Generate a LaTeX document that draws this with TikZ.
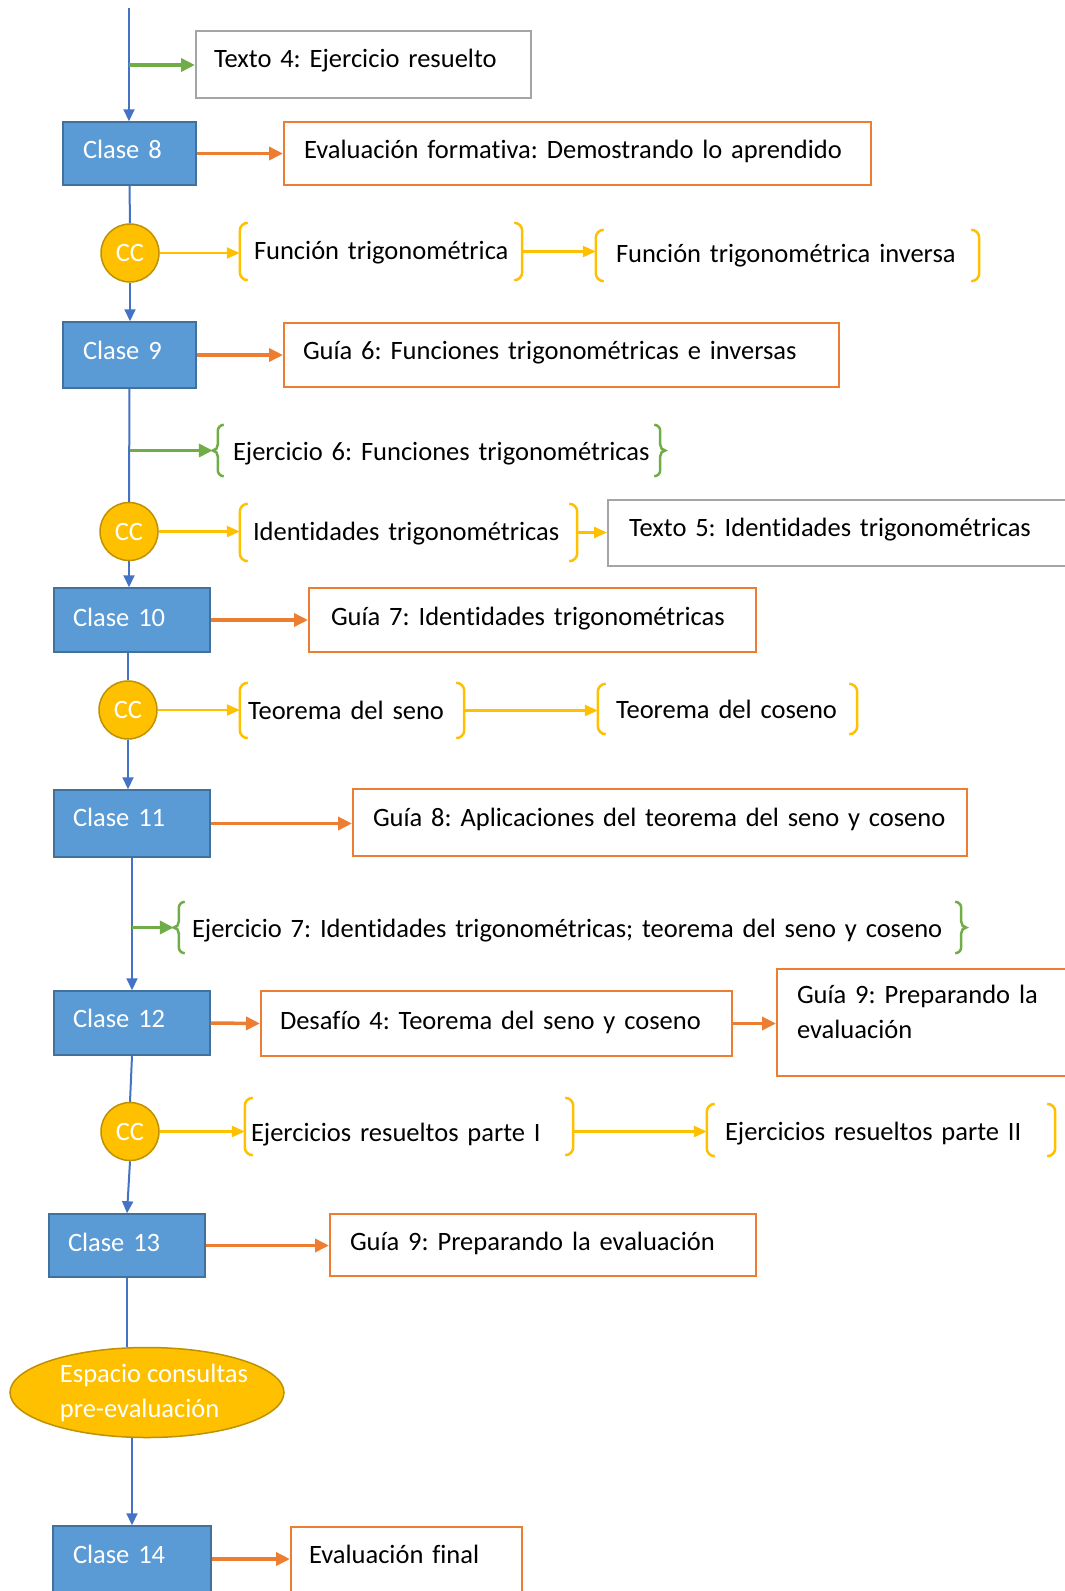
\documentclass[tikz,border=0pt]{standalone}
\usepackage{fontspec}
\setmainfont{Carlito}[Ligatures=NoCommon]
\usetikzlibrary{arrows.meta,shapes.geometric}
\definecolor{bfill}{HTML}{5B9BD5}
\definecolor{bborder}{HTML}{41719C}
\definecolor{bline}{HTML}{4472C4}
\definecolor{orng}{HTML}{ED7D31}
\definecolor{yel}{HTML}{FFC000}
\definecolor{ccb}{HTML}{BF9000}
\definecolor{grn}{HTML}{70AD47}
\definecolor{gry}{HTML}{A5A5A5}
\newcommand\fs{\fontsize{26.5}{35}\selectfont\frenchspacing}
\newcommand\ybrk[1]{%
 \draw[ybr] ([xshift=8pt]#1.north west) arc[start angle=90,end angle=180,radius=8pt] -- ([yshift=8pt]#1.south west) arc[start angle=180,end angle=270,radius=8pt];
 \draw[ybr] ([xshift=-8pt]#1.north east) arc[start angle=90,end angle=0,radius=8pt] -- ([yshift=8pt]#1.south east) arc[start angle=0,end angle=-90,radius=8pt];}
\newcommand\gbrk[1]{%
 \draw[gbr] ([xshift=6pt]#1.north west) to[out=180,in=90] ([yshift=-6pt]#1.north west) -- ([yshift=6pt]#1.west) to[out=-90,in=0] ([xshift=-5pt]#1.west) to[out=0,in=90] ([yshift=-6pt]#1.west) -- ([yshift=6pt]#1.south west) to[out=-90,in=180] ([xshift=6pt]#1.south west);
 \draw[gbr] ([xshift=-6pt]#1.north east) to[out=0,in=90] ([yshift=-6pt]#1.north east) -- ([yshift=6pt]#1.east) to[out=-90,in=180] ([xshift=5pt]#1.east) to[out=180,in=90] ([yshift=-6pt]#1.east) -- ([yshift=6pt]#1.south east) to[out=-90,in=0] ([xshift=-6pt]#1.south east);}
\tikzset{
 x=1pt, y=1pt,
 every node/.style={font=\fs},
 dy/.code={\pgfmathsetmacro\myTH{17+#1}\pgfmathsetmacro\myTD{23-#1}%
   \edef\myTmp{\noexpand\tikzset{text height=\myTH pt,text depth=\myTD pt}}\myTmp},
 base/.style={rectangle, inner ysep=0pt, align=left},
 clase/.style={base, fill=bfill, draw=bborder, line width=1.5pt, text=white},
 obox/.style={base, draw=orng, line width=2pt},
 gbox/.style={base, draw=gry, line width=2pt},
 brnode/.style={base},
 cc/.style={circle, fill=yel, draw=ccb, line width=1.5pt, text=white, minimum size=58pt, inner sep=0pt},
 blin/.style={draw=bline, line width=2pt},
 barr/.style={blin, -{Triangle[length=12pt,width=11pt]}},
 oarr/.style={draw=orng, line width=3.5pt, -{Triangle[length=14pt,width=13pt]}},
 garr/.style={draw=grn, line width=3.5pt, -{Triangle[length=14pt,width=13pt]}},
 yarr/.style={draw=yel, line width=2.5pt, -{Triangle[length=13pt,width=11pt]}},
 ybr/.style={draw=yel, line width=2.5pt},
 gbr/.style={draw=grn, line width=2.5pt},
}
\begin{document}
\begin{tikzpicture}
\useasboundingbox (0,0) rectangle (1065,-1591);
\clip (0,0) rectangle (1065,-1591);
% boxes
\node[gbox, minimum width=335, minimum height=67, text width=299, inner xsep=18, dy=5.6] (t4) at (363.5,-64.5) {\mbox{Texto 4: Ejercicio resuelto}};
\node[clase, minimum width=133, minimum height=63, text width=93, inner xsep=20, dy=7.9] (c8) at (129.5,-153.5) {\mbox{Clase 8}};
\node[obox, minimum width=587, minimum height=63, text width=547, inner xsep=20, dy=7.9] (ef) at (577.5,-153.5) {\mbox{Evaluación formativa: Demostrando lo aprendido}};
\node[cc] (cc1) at (130,-253) {CC};
\node[brnode, minimum width=282, minimum height=57, text width=254, inner xsep=14, dy=11.3] (ft) at (381,-251.5) {\mbox{Función trigonométrica}};
\node[brnode, minimum width=383, minimum height=51, text width=343, inner xsep=20, dy=10.4] (fti) at (787.5,-255.5) {\mbox{Función trigonométrica inversa}};
\node[clase, minimum width=133, minimum height=66, text width=93, inner xsep=20, dy=7.2] (c9) at (129.5,-355) {\mbox{Clase 9}};
\node[obox, minimum width=555, minimum height=64, text width=517, inner xsep=19, dy=7.2] (g6) at (561.5,-355) {\mbox{Guía 6: Funciones trigonométricas e inversas}};
\node[brnode, minimum width=442, minimum height=51, text width=412, inner xsep=15, dy=13.2] (e6) at (439,-450.5) {\mbox{Ejercicio 6: Funciones trigonométricas}};
\node[cc] (cc2) at (129,-531.5) {CC};
\node[brnode, minimum width=337, minimum height=57, text width=311, inner xsep=13, dy=11.3] (it) at (408.5,-532.5) {\mbox{Identidades trigonométricas}};
\node[gbox, minimum width=467, minimum height=66, text width=425, inner xsep=21, dy=6.7] (t5) at (841.5,-533) {\mbox{Texto 5: Identidades trigonométricas}};
\node[clase, minimum width=156, minimum height=64, text width=118, inner xsep=19, dy=9] (c10) at (132,-620) {\mbox{Clase 10}};
\node[obox, minimum width=447, minimum height=64, text width=403, inner xsep=22, dy=8] (g7) at (532.5,-620) {\mbox{Guía 7: Identidades trigonométricas}};
\node[cc] (cc3) at (128,-710) {CC};
\node[brnode, minimum width=224, minimum height=55, text width=208, inner xsep=8, dy=11.8] (ts) at (352,-710.5) {\mbox{Teorema del seno}};
\node[brnode, minimum width=259, minimum height=50, text width=223, inner xsep=18, dy=12.3] (tc) at (727.5,-709) {\mbox{Teorema del coseno}};
\node[clase, minimum width=156, minimum height=67, text width=118, inner xsep=19, dy=6.3] (c11) at (132,-823.5) {\mbox{Clase 11}};
\node[obox, minimum width=614, minimum height=67, text width=574, inner xsep=20, dy=7.3] (g8) at (660,-822.5) {\mbox{Guía 8: Aplicaciones del teorema del seno y coseno}};
\node[brnode, minimum width=782, minimum height=51, text width=756, inner xsep=13, dy=13.4] (e7) at (570,-927.5) {\mbox{Ejercicio 7: Identidades trigonométricas; teorema del seno y coseno}};
\node[clase, minimum width=156, minimum height=64, text width=118, inner xsep=19, dy=7.7] (c12) at (132,-1023) {\mbox{Clase 12}};
\node[obox, minimum width=471, minimum height=65, text width=433, inner xsep=19, dy=9.2] (d4) at (496.5,-1023.5) {\mbox{Desafío 4: Teorema del seno y coseno}};
\node[obox, text depth=55.6pt, minimum width=298, minimum height=107, text width=258, inner xsep=20] (g9a) at (926,-1022.5) {\mbox{Guía 9: Preparando la}\\\mbox{evaluación}};
\node[cc] (cc4) at (130,-1131.5) {CC};
\node[brnode, minimum width=328, minimum height=57, text width=316, inner xsep=6, dy=17.8] (er1) at (409,-1126.5) {\mbox{Ejercicios resueltos parte I}};
\node[brnode, minimum width=348, minimum height=52, text width=312, inner xsep=18, dy=13.3] (er2) at (881,-1130) {\mbox{Ejercicios resueltos parte II}};
\node[clase, minimum width=156, minimum height=63, text width=118, inner xsep=19, dy=9.3] (c13) at (127,-1245.5) {\mbox{Clase 13}};
\node[obox, minimum width=426, minimum height=62, text width=386, inner xsep=20, dy=8.8] (g9b) at (543,-1245) {\mbox{Guía 9: Preparando la evaluación}};
\node[ellipse, fill=yel, draw=ccb, line width=1.5pt, text=white, minimum width=274, minimum height=90, inner xsep=-7pt, inner ysep=0pt, text depth=4pt, align=left] (ec) at (147,-1392.5) {\hspace*{14pt}Espacio consultas\\\hspace*{14pt}pre-evaluación};
\node[clase, minimum width=156, minimum height=74, text width=118, inner xsep=20, dy=3.3] (c14) at (132,-1563) {\mbox{Clase 14}};
\node[obox, minimum width=231, minimum height=73, text width=195, inner xsep=18, dy=2.8] (ef2) at (406.5,-1563.5) {\mbox{Evaluación final}};
% brackets
\ybrk{ft} \ybrk{fti} \ybrk{it} \ybrk{ts} \ybrk{tc} \ybrk{er1} \ybrk{er2}
\gbrk{e6} \gbrk{e7}
% connectors
\coordinate (top) at (129,-8);
\draw[barr] (top) -- (top |- c8.north);
\coordinate (g1) at (129,-65);
\draw[garr] (g1) -- (g1 -| t4.west);
\draw[oarr] (c8.east) -- (ef.west);
\draw[blin] (c8.south) -- (cc1.north);
\draw[yarr] (cc1.east) -- (cc1.east -| ft.west);
\draw[yarr] (ft.east) -- (ft.east -| fti.west);
\draw[barr] (cc1.south) -- (cc1.south |- c9.north);
\draw[oarr] (c9.east) -- (g6.west);
\draw[blin] (c9.south) -- (cc2.north);
\coordinate (g2) at (129.5,-450.5);
\draw[garr] (g2) -- ([xshift=-5pt]e6.west);
\draw[yarr] (cc2.east) -- (cc2.east -| it.west);
\draw[yarr] (it.east) -- (it.east -| t5.west);
\draw[barr] (cc2.south) -- (cc2.south |- c10.north);
\draw[oarr] (c10.east) -- (g7.west);
\draw[blin] (cc3.north |- c10.south) -- (cc3.north);
\draw[yarr] (cc3.east) -- (cc3.east -| ts.west);
\draw[yarr] (ts.east) -- (ts.east -| tc.west);
\draw[barr] (cc3.south) -- (cc3.south |- c11.north);
\draw[oarr] (c11.east) -- (c11.east -| g8.west);
\draw[barr] (c11.south) -- (c12.north);
\coordinate (g3) at (132,-927.5);
\draw[garr] (g3) -- ([xshift=-5pt]e7.west);
\draw[oarr] (c12.east) -- (d4.west);
\draw[oarr] (d4.east) -- (d4.east -| g9a.west);
\draw[blin] (c12.south) -- (cc4.north);
\draw[yarr] (cc4.east) -- (cc4.east -| er1.west);
\draw[yarr] (er1.east |- cc4.east) -- (cc4.east -| er2.west);
\draw[barr] (cc4.south) -- (c13.north);
\draw[oarr] (c13.east) -- (c13.east -| g9b.west);
\draw[blin] (c13.south) -- (c13.south |- ec.north);
\draw[barr] (c14.north |- ec.south) -- (c14.north);
\draw[oarr] ([yshift=4pt]c14.east) -- ([yshift=4pt]c14.east -| ef2.west);
\end{tikzpicture}
\end{document}
